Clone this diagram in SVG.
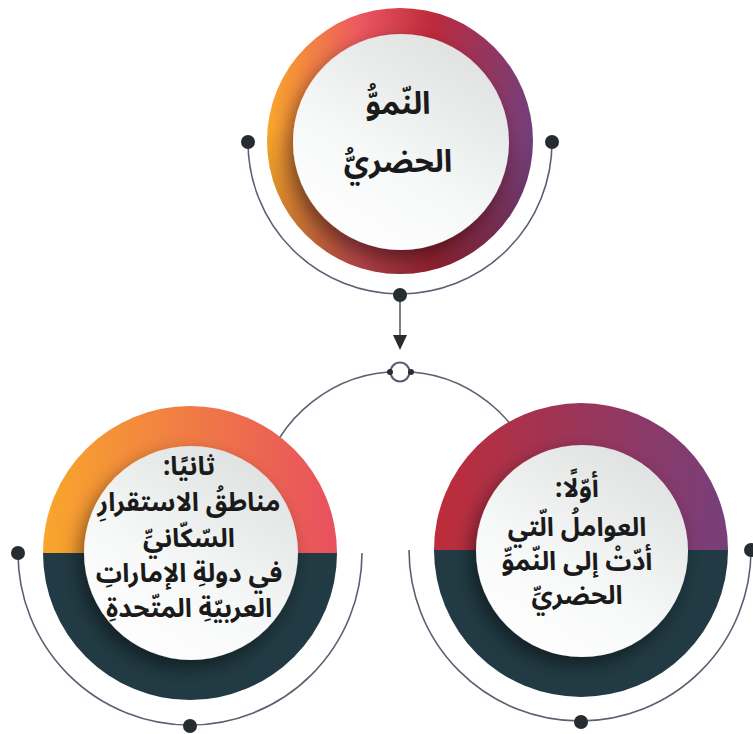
<svg xmlns="http://www.w3.org/2000/svg" width="753" height="734" viewBox="0 0 753 734">
<defs>
<style>
.line{fill:none;stroke:#5c5e72;stroke-width:1.6}
.dot{fill:#262c2f}
.dark{fill:#213a43}
.white{fill:url(#wg);filter:url(#sh)}
.t{font-family:"Noto Sans Arabic","Noto Sans","DejaVu Sans",sans-serif;font-weight:700;fill:#1a1a1a;text-anchor:middle;direction:rtl}
</style>
<linearGradient id="gTop" x1="0" y1="0" x2="1" y2="0">
<stop offset="0" stop-color="#f8a72a"/>
<stop offset="0.35" stop-color="#ec5860"/>
<stop offset="0.62" stop-color="#bd2a3b"/>
<stop offset="1" stop-color="#733f7c"/>
</linearGradient>
<linearGradient id="gShade" x1="0" y1="0" x2="0" y2="1">
<stop offset="0.45" stop-color="#000" stop-opacity="0"/>
<stop offset="1" stop-color="#000" stop-opacity="0.28"/>
</linearGradient>
<linearGradient id="gL" x1="0" y1="0" x2="1" y2="0">
<stop offset="0" stop-color="#f8a62c"/>
<stop offset="1" stop-color="#e8505e"/>
</linearGradient>
<linearGradient id="gR" x1="0" y1="0" x2="1" y2="0">
<stop offset="0" stop-color="#be2c39"/>
<stop offset="1" stop-color="#773f7a"/>
</linearGradient>
<linearGradient id="wg" x1="0.8" y1="0" x2="0.2" y2="1">
<stop offset="0" stop-color="#dde0df"/>
<stop offset="0.6" stop-color="#f7f8f8"/>
<stop offset="1" stop-color="#ffffff"/>
</linearGradient>
<filter id="sh" x="-30%" y="-30%" width="160%" height="160%">
<feDropShadow dx="-5" dy="8" stdDeviation="9" flood-color="#000" flood-opacity="0.45"/>
</filter>
</defs>

<g id="connectors">
<path class="line" d="M248,142 A152,152 0 0 0 552,142"/>
<path class="line" d="M18,553 A172,172 0 0 0 362,553"/>
<path class="line" d="M409,550 A171,171 0 0 0 751,550"/>
<path class="line" d="M262,480 A142,142 0 0 1 538,480"/>
<line class="line" x1="400" y1="295" x2="400" y2="337"/>
<polygon class="dot" points="393,335 407,335 400,350"/>
<circle cx="400" cy="372" r="9.5" fill="#fff" stroke="#5c5e72" stroke-width="2.2"/>
<circle class="dot" cx="390" cy="372" r="3"/>
<circle class="dot" cx="411" cy="372" r="3"/>
<circle class="dot" cx="248" cy="142" r="7"/>
<circle class="dot" cx="552" cy="142" r="7"/>
<circle class="dot" cx="400" cy="295" r="7"/>
<circle class="dot" cx="18" cy="553" r="7"/>
<circle class="dot" cx="190" cy="726" r="7"/>
<circle class="dot" cx="581" cy="722" r="7"/>
<circle class="dot" cx="751" cy="550" r="7"/>
</g>

<g id="node-top">
<circle cx="400" cy="141" r="133" fill="url(#gTop)"/>
<circle cx="400" cy="141" r="133" fill="url(#gShade)"/>
<circle class="white" cx="401" cy="142" r="108"/>
<text class="t" x="398" y="114" font-size="31">النّموُّ</text>
<text class="t" x="398" y="172" font-size="31">الحضريُّ</text>
</g>

<g id="node-left">
<path d="M43,553 A147,147 0 0 1 337,553 Z" fill="url(#gL)"/>
<path class="dark" d="M43,553 A147,147 0 0 0 337,553 Z"/>
<circle class="white" cx="191" cy="553" r="107"/>
<text class="t" x="189" y="475" font-size="26">ثانيًا:</text>
<text class="t" x="189" y="511" font-size="26">مناطقُ الاستقرارِ</text>
<text class="t" x="189" y="547" font-size="26">السّكّانيِّ</text>
<text class="t" x="189" y="582" font-size="26">في دولةِ الإماراتِ</text>
<text class="t" x="189" y="617" font-size="26">العربيّةِ المتّحدةِ</text>
</g>

<g id="node-right">
<path d="M434,550 A147,147 0 0 1 728,550 Z" fill="url(#gR)"/>
<path class="dark" d="M434,550 A147,147 0 0 0 728,550 Z"/>
<circle class="white" cx="582" cy="551" r="106"/>
<text class="t" x="577" y="497" font-size="26">أوّلًا:</text>
<text class="t" x="577" y="536" font-size="26">العواملُ الّتي</text>
<text class="t" x="577" y="570" font-size="26">أدّتْ إلى النّموِّ</text>
<text class="t" x="577" y="604" font-size="26">الحضريِّ</text>
</g>
</svg>
